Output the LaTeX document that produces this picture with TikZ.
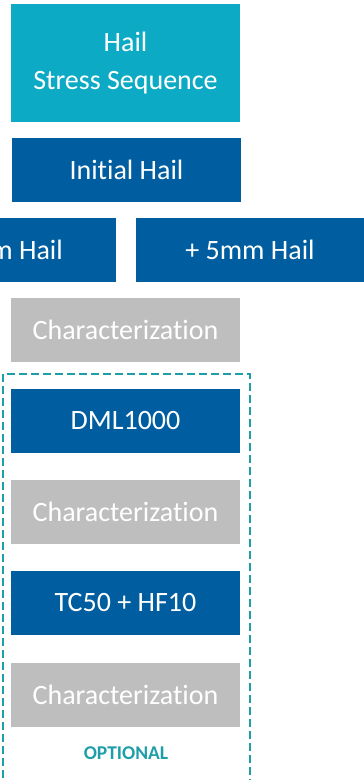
\documentclass[tikz,border=0pt]{standalone}
\usepackage{fontspec}
\setmainfont[Ligatures=NoCommon]{Carlito}
\definecolor{hailcyan}{RGB}{12,170,196}
\definecolor{stepblue}{RGB}{0,94,160}
\definecolor{chargray}{RGB}{190,190,190}
\definecolor{optteal}{RGB}{30,158,168}
\begin{document}
\begin{tikzpicture}[x=1pt,y=-1pt,
  block/.style={rectangle, inner sep=0pt, minimum width=229pt, minimum height=64pt,
    text=white, font=\fontsize{28}{38}\selectfont, align=center},
  stepbox/.style={block, fill=stepblue},
  charbox/.style={block, fill=chargray},
  titlebox/.style={block, fill=hailcyan, minimum height=118pt},
  optframe/.style={draw=optteal, line width=1.3pt, dash pattern=on 8pt off 4pt}
]
\useasboundingbox (0,0) rectangle (364,780);

% title
\node[titlebox] (title) at (125.5,63) {Hail\\Stress Sequence};

% hail steps
\node[stepbox] (initial) at (126.5,170) {Initial Hail};
\begin{scope}
  \clip (0,0) rectangle (364,780);
  \fill[stepblue] (-120,218) rectangle (116,282);
  \node[anchor=east, text=white, font=\fontsize{28}{34}\selectfont, inner sep=0pt] (hailA) at (63,250) {m Hail};
  \node[stepbox, minimum width=228pt] (hailB) at (250,250) {+ 5mm Hail};
\end{scope}

\node[charbox] (char1) at (125.5,329.5) {Characterization};

% optional part
\draw[optframe] (3,790) -- (3,374) -- (250,374) -- (250,790);
\node[stepbox] (dml) at (125.5,421) {DML1000};
\node[charbox] (char2) at (125.5,512) {Characterization};
\node[stepbox] (tc) at (125.5,603) {TC50 + HF10};
\node[charbox] (char3) at (125.5,694.5) {Characterization};
\node[text=optteal, font=\fontsize{19.5}{22}\selectfont\bfseries] (opt) at (126,753) {OPTIONAL};
\end{tikzpicture}
\end{document}
